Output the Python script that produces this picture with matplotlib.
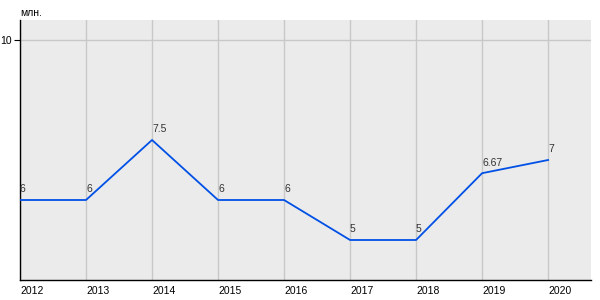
import matplotlib
matplotlib.use("Agg")
import matplotlib.pyplot as plt

years = [2012, 2013, 2014, 2015, 2016, 2017, 2018, 2019, 2020]
values = [6, 6, 7.5, 6, 6, 5, 5, 6.67, 7]
labels = ["6", "6", "7.5", "6", "6", "5", "5", "6.67", "7"]
yticks = [10]
unit = "млн."

plt.rcParams['font.family'] = ['Liberation Sans', 'DejaVu Sans']
fig = plt.figure(figsize=(6, 3), dpi=100)
ax = fig.add_axes([20/600, 20/300, 571/600, 260/300])
ax.set_facecolor('#ebebeb')
ax.plot(years, values, color='#0050e6', lw=1.3, zorder=3)
for x, y, t in zip(years, values, labels):
    ax.annotate(t, (x, y), xytext=(0, 4), textcoords='offset points',
                ha='left', va='bottom', fontsize=7.5, color='#333333')
ax.set_xlim(2012, 2020.65)
ax.set_ylim(4, 10.5)
ax.set_xticks(years)
ax.set_xticklabels([str(y) for y in years], ha='left', fontsize=7.5)
ax.set_yticks(yticks)
ax.set_yticklabels([str(t) for t in yticks], fontsize=7.5)
ax.tick_params(axis='x', length=0, pad=4)
ax.tick_params(axis='y', length=4, pad=2)
ax.grid(True, color='#c8c8c8', lw=1)
ax.set_axisbelow(True)
for s in ['top', 'right']:
    ax.spines[s].set_visible(False)
for s in ['left', 'bottom']:
    ax.spines[s].set_color('black')
    ax.spines[s].set_linewidth(1)
fig.text(20/600, 1 - 13/300, unit, fontsize=7.5, ha='left', va='center')
fig.savefig('out.png', dpi=100)
